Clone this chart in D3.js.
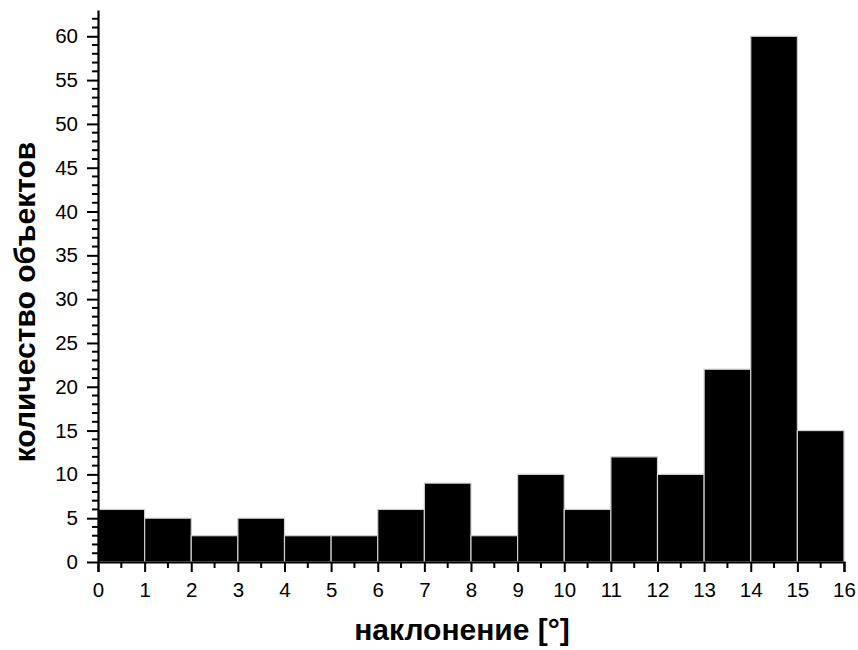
<!DOCTYPE html>
<html><head><meta charset="utf-8">
<script src="https://cdn.jsdelivr.net/npm/d3@7"></script>
<style>body{margin:0;background:#fff}</style>
</head><body>
<svg id="c" width="858" height="650"></svg>
<script>
const binStarts = [0,1,2,3,4,5,6,7,8,9,10,11,12,13,14,15];
const counts = [6,5,3,5,3,3,6,9,3,10,6,12,10,22,60,15];
const xTicks = [0,1,2,3,4,5,6,7,8,9,10,11,12,13,14,15,16];
const yTicks = [0,5,10,15,20,25,30,35,40,45,50,55,60];
const xTitle = "наклонение [°]";
const yTitle = "количество объектов";

const svg = d3.select("#c");
const x = d3.scaleLinear().domain([0,16]).range([98,844]);
const y = d3.scaleLinear().domain([0,63]).range([562,10]);

svg.append("g").selectAll("rect").data(binStarts).join("rect")
  .attr("x", d => x(d))
  .attr("width", d => x(d+1)-x(d))
  .attr("y", (d,i) => y(counts[i]))
  .attr("height", (d,i) => y(0)-y(counts[i]))
  .attr("fill", "#000")
  .attr("stroke", "#cfcfcf").attr("stroke-width", 1.2);

const font = "Arial, 'Liberation Sans', sans-serif";
// x axis
const xMinor = d3.range(0.5,16,1);
const gx = svg.append("g").attr("transform", `translate(0,${y(0)})`);
gx.call(d3.axisBottom(x).tickValues(xTicks).tickSize(10).tickPadding(10).tickFormat(d3.format("d")));
gx.selectAll(".tick line").attr("stroke-width",2);
gx.select(".domain").attr("stroke-width",2.2);
gx.selectAll("text").attr("font-family",font).style("font-size","20.5px").attr("fill","#000");
gx.selectAll(".minor").data(xMinor).join("line").attr("class","minor")
  .attr("x1",d=>x(d)).attr("x2",d=>x(d)).attr("y1",0).attr("y2",6)
  .attr("stroke","#000").attr("stroke-width",2);

// y axis
const yMinor = d3.range(1,63,1).filter(v=>v%5!==0);
const gy = svg.append("g").attr("transform", `translate(${x(0)},0)`);
gy.call(d3.axisLeft(y).tickValues(yTicks).tickSize(11).tickPadding(9).tickSizeOuter(0).tickFormat(d3.format("d")));
gy.selectAll(".tick line").attr("stroke-width",2);
gy.select(".domain").attr("stroke-width",2.2);
gy.selectAll("text").attr("font-family",font).style("font-size","20.5px").attr("fill","#000");
gy.selectAll(".minor").data(yMinor).join("line").attr("class","minor")
  .attr("x1",0).attr("x2",-6).attr("y1",d=>y(d)).attr("y2",d=>y(d))
  .attr("stroke","#000").attr("stroke-width",2);

svg.append("text").attr("x",462).attr("y",640).attr("text-anchor","middle")
  .attr("font-family",font).attr("font-weight","bold").attr("font-size",30).text(xTitle);
svg.append("text").attr("transform","translate(35,302) rotate(-90)").attr("text-anchor","middle")
  .attr("font-family",font).attr("font-weight","bold").attr("font-size",30).text(yTitle);
</script>
</body></html>
